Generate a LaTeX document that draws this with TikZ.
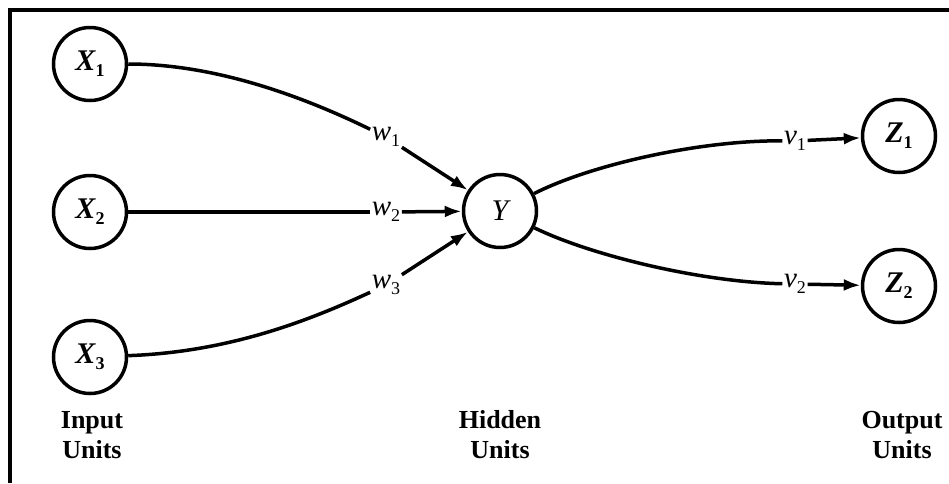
\documentclass[tikz,border=0pt]{standalone}
\usepackage{fontspec}
\setmainfont{Liberation Serif}
\usetikzlibrary{arrows.meta}
\newcommand{\sbs}[1]{\raisebox{-0.2em}{\fontsize{18}{18}\selectfont\upshape #1}}
\begin{document}
\begin{tikzpicture}[x=1pt,y=-1pt,
  unit/.style={circle,draw,line width=3.5pt,minimum size=73pt,inner sep=0pt,
    font=\fontsize{30}{30}\selectfont\bfseries\itshape},
  wlab/.style={inner sep=1.5pt,font=\fontsize{29}{29}\selectfont\itshape},
  conn/.style={line width=3.5pt},
  arr/.style={conn,-{Latex[length=17pt,width=12pt]}},
  capt/.style={align=center,inner sep=0pt,font=\fontsize{26}{30}\selectfont\bfseries}]
\useasboundingbox (0,0) rectangle (949,483);
\draw[line width=4.5pt] (10,483) -- (10,10) -- (949,10);

\node[unit] (X1) at (90,64) {X\sbs{1}};
\node[unit] (X2) at (90,212) {X\sbs{2}};
\node[unit] (X3) at (90,357) {X\sbs{3}};
\node[unit,font=\fontsize{30}{30}\selectfont\itshape] (Y) at (500,211) {Y};
\node[unit] (Z1) at (899,136) {Z\sbs{1}};
\node[unit] (Z2) at (899,286) {Z\sbs{2}};

\node[wlab] (w1) at (386,137) {w\sbs{1}};
\node[wlab] (w2) at (386,212) {w\sbs{2}};
\node[wlab] (w3) at (386,285) {w\sbs{3}};
\node[wlab] (v1) at (795,141) {v\sbs{1}};
\node[wlab] (v2) at (795,284) {v\sbs{2}};

\node[capt] (inp) at (92,435) {Input\\Units};
\node[capt] (hid) at (500,435) {Hidden\\Units};
\node[capt] (outp) at (902,435) {Output\\Units};

\draw[conn] (X1) .. controls (220,64) and (310,100) .. (w1);
\draw[arr] (w1) -- (Y);
\draw[conn] (X2) -- (w2);
\draw[arr] (w2) -- (Y);
\draw[conn] (X3) .. controls (230,352) and (310,320) .. (w3);
\draw[arr] (w3) -- (Y);
\draw[conn] (Y) .. controls (590,165) and (700,140) .. (v1);
\draw[arr] (v1) -- (Z1);
\draw[conn] (Y) .. controls (590,255) and (700,282) .. (v2);
\draw[arr] (v2) -- (Z2);
\end{tikzpicture}
\end{document}
